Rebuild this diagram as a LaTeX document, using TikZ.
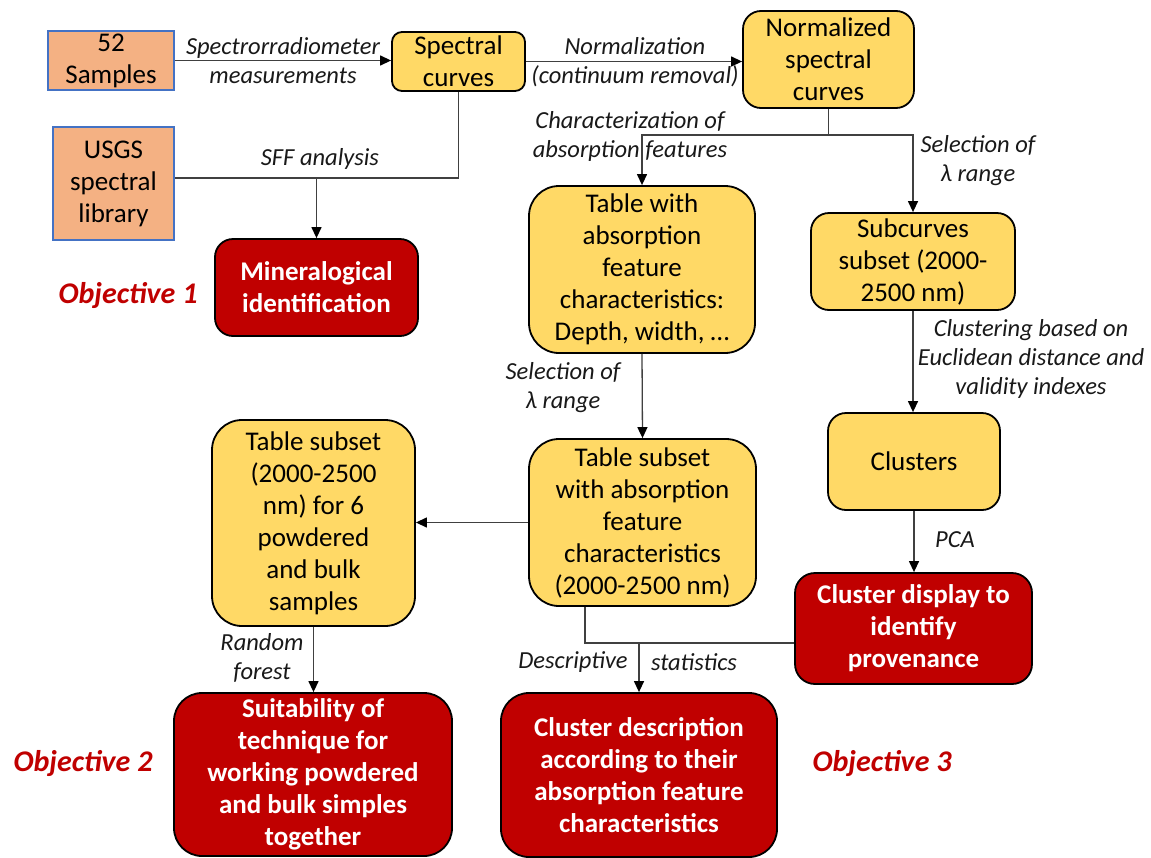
\documentclass[tikz,border=0pt]{standalone}
\usepackage{fontspec}
\setmainfont{Carlito}
\usetikzlibrary{arrows.meta,calc}
\definecolor{ylw}{HTML}{FFD966}
\definecolor{org}{HTML}{F4B183}
\definecolor{blu}{HTML}{4472C4}
\definecolor{dred}{HTML}{C00000}
\definecolor{ln}{HTML}{404040}
\newcommand\bxf{\fontsize{27}{32}\selectfont}
\newcommand\lbf{\fontsize{24.5}{29}\selectfont\itshape}
\newcommand\obf{\fontsize{30}{36}\selectfont\bfseries\itshape}
\begin{document}
\begin{tikzpicture}[x=1pt,y=-1pt,
 base/.style={align=center, inner sep=0pt, line width=1.8pt, font=\bxf},
 inbox/.style={base, draw=blu, fill=org, line width=1.6pt},
 ybox/.style={base, draw=black, fill=ylw},
 rbox/.style={base, draw=black, fill=dred, text=white, font=\bxf\bfseries},
 lbl/.style={align=center, inner sep=0pt, font=\lbf, text=black!90},
 obj/.style={inner sep=0pt, font=\obf, text=dred},
 conn/.style={draw=ln, line width=1.3pt},
 arr/.style={conn, -{Triangle[length=11pt,width=10pt,color=black]}}]
\useasboundingbox[fill=white] (0,0) rectangle (1151,857);

% boxes
\node[inbox, minimum width=126pt, minimum height=59pt] (samples) at (111,60.5) {52\\Samples};
\node[inbox, minimum width=121pt, minimum height=113pt] (usgs) at (113.5,183.5) {USGS\\spectral\\library};
\node[ybox, rounded corners=10pt, minimum width=133pt, minimum height=59pt] (spectral) at (458.5,61.5) {Spectral\\curves};
\node[ybox, rounded corners=18pt, minimum width=171pt, minimum height=97pt] (norm) at (828.5,59.5) {Normalized\\spectral\\curves};
\node[rbox, rounded corners=18pt, minimum width=203pt, minimum height=97pt] (mineral) at (316.5,287.5) {Mineralogical\\identification};
\node[ybox, rounded corners=30pt, minimum width=226pt, minimum height=167pt] (tablewith) at (642,269.5) {Table with\\absorption\\feature\\characteristics:\\Depth, width, …};
\node[ybox, rounded corners=18pt, minimum width=204pt, minimum height=97pt] (subcurves) at (913,261.5) {Subcurves\\subset (2000-\\2500 nm)};
\node[ybox, rounded corners=18pt, minimum width=172pt, minimum height=97pt] (clusters) at (914,461.5) {Clusters};
\node[ybox, rounded corners=30pt, minimum width=203pt, minimum height=206pt] (tableleft) at (313.5,523) {Table subset\\(2000-2500\\nm) for 6\\powdered\\and bulk\\samples};
\node[ybox, rounded corners=30pt, minimum width=227pt, minimum height=167pt] (tablesub) at (642.5,522.5) {Table subset\\with absorption\\feature\\characteristics\\(2000-2500 nm)};
\node[rbox, rounded corners=20pt, minimum width=237pt, minimum height=111pt] (clusterdisp) at (913.5,628.5) {Cluster display to\\identify\\provenance};
\node[rbox, rounded corners=28pt, minimum width=278pt, minimum height=163pt] (suit) at (313,774.5) {Suitability of\\technique for\\working powdered\\and bulk simples\\together};
\node[rbox, rounded corners=28pt, minimum width=276pt, minimum height=164pt] (clusterdesc) at (639,775) {Cluster description\\according to their\\absorption feature\\characteristics};

% objectives
\node[obj] (obj1) at (128,295) {Objective 1};
\node[obj] (obj2) at (83,763) {Objective 2};
\node[obj] (obj3) at (882,763) {Objective 3};

% connector labels
\node[lbl] (l1) at (283,60.5) {Spectrorradiometer\\measurements};
\node[lbl] (l2) at (635,62) {Normalization\\(continuum removal)};
\node[lbl] (l3) at (320,159) {SFF analysis};
\node[lbl] (l4) at (630,136) {Characterization of\\absorption features};
\node[lbl] (l5) at (978,161) {Selection of\\λ range};
\node[lbl] (l6) at (563,388) {Selection of\\λ range};
\node[lbl] (l7) at (1031,359) {Clustering based on\\Euclidean distance and\\validity indexes};
\node[lbl] (l8) at (955,540) {PCA};
\node[lbl] (l9) at (262,658) {Random\\forest};
\node[lbl] (l10) at (573,662) {Descriptive};
\node[lbl] (l11) at (694,662) {statistics};

% connectors
\coordinate (sff) at (316.5,178);
\coordinate (nj) at (828.5,135);
\coordinate (dj) at (639,643);
\draw[arr] (samples.east) -- (samples.east -| spectral.west);
\draw[arr] (spectral.east) -- (spectral.east -| norm.west);
\draw[conn] (spectral.south) |- (sff) -- (sff -| usgs.east);
\draw[arr] (sff) -- (mineral.north);
\draw[conn] (norm.south) -- (nj);
\draw[arr] (nj) -| (tablewith.north);
\draw[arr] (nj) -| (subcurves.north);
\draw[arr] (tablewith.south) -- (tablesub.north);
\draw[arr] (subcurves.south) -- (subcurves.south |- clusters.north);
\draw[arr] (clusters.south) -- (clusters.south |- clusterdisp.north);
\draw[arr] (tablesub.west) -- (tablesub.west -| tableleft.east);
\draw[arr] (tableleft.south) -- (tableleft.south |- suit.north);
\draw[conn] ([xshift=-57.5pt]tablesub.south) |- (dj) -- (dj -| clusterdisp.west);
\draw[arr] (dj) -- (clusterdesc.north);
\end{tikzpicture}
\end{document}
